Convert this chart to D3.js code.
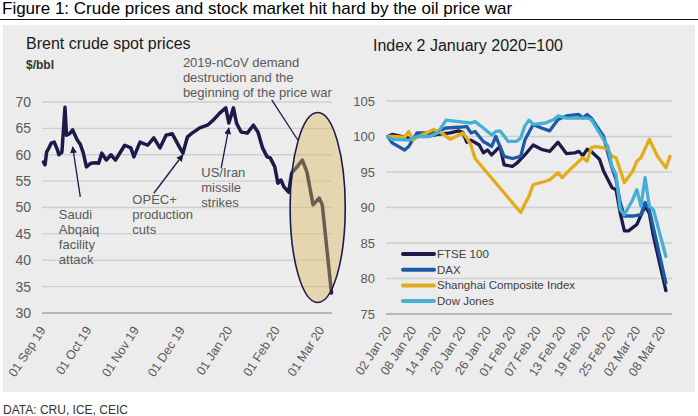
<!DOCTYPE html>
<html>
<head>
<meta charset="utf-8">
<script src="https://cdn.jsdelivr.net/npm/d3@7"></script>
<style>
  body { margin: 0; background: #fff; }
  text { font-family: "Liberation Sans", Arial, sans-serif; }
</style>
</head>
<body>
<svg id="canvas"></svg>
<script>
/***********************************************************************/
// Data

var brent = [
  ["2019-09-02", 58.6], ["2019-09-03", 58.1], ["2019-09-04", 60.5], ["2019-09-05", 61.0],
  ["2019-09-07", 62.2], ["2019-09-09", 62.4], ["2019-09-11", 61.0], ["2019-09-12", 60.0],
  ["2019-09-14", 60.5], ["2019-09-16", 69.0], ["2019-09-17", 63.7], ["2019-09-19", 64.0],
  ["2019-09-21", 64.7], ["2019-09-24", 62.8], ["2019-09-26", 62.0], ["2019-09-28", 60.3],
  ["2019-09-30", 57.7], ["2019-10-03", 58.4], ["2019-10-06", 58.5], ["2019-10-08", 58.4],
  ["2019-10-10", 60.3], ["2019-10-13", 59.0], ["2019-10-16", 60.0], ["2019-10-19", 59.0],
  ["2019-10-25", 61.8], ["2019-10-29", 61.3], ["2019-10-31", 59.6], ["2019-11-04", 62.4],
  ["2019-11-09", 61.8], ["2019-11-13", 63.2], ["2019-11-17", 61.3], ["2019-11-21", 63.7],
  ["2019-11-25", 64.0], ["2019-11-30", 61.3], ["2019-12-02", 60.3], ["2019-12-05", 63.4],
  ["2019-12-08", 64.1], ["2019-12-13", 65.1], ["2019-12-18", 65.6], ["2019-12-22", 66.6],
  ["2019-12-26", 67.9], ["2019-12-30", 68.9], ["2020-01-01", 66.0], ["2020-01-04", 68.9],
  ["2020-01-06", 66.0], ["2020-01-09", 64.3], ["2020-01-13", 64.1], ["2020-01-17", 65.6],
  ["2020-01-20", 64.3], ["2020-01-23", 61.3], ["2020-01-26", 59.6], ["2020-01-28", 59.4],
  ["2020-01-31", 57.7], ["2020-02-02", 54.6], ["2020-02-04", 55.2], ["2020-02-06", 53.9],
  ["2020-02-09", 52.9], ["2020-02-11", 56.5], ["2020-02-14", 57.5], ["2020-02-18", 59.0],
  ["2020-02-21", 56.7], ["2020-02-25", 50.5], ["2020-02-29", 51.8], ["2020-03-02", 50.5],
  ["2020-03-08", 33.8]
];

var ftse = [
  ["2020-01-02", 100], ["2020-01-03", 100.3], ["2020-01-06", 99.9], ["2020-01-08", 99.6],
  ["2020-01-09", 100.1], ["2020-01-12", 100.1], ["2020-01-14", 100.3], ["2020-01-17", 100.5],
  ["2020-01-19", 100.8], ["2020-01-20", 100.6], ["2020-01-21", 99.2], ["2020-01-22", 99.5],
  ["2020-01-24", 98.8], ["2020-01-25", 97.7], ["2020-01-26", 98.1], ["2020-01-27", 97.4],
  ["2020-01-29", 98.6], ["2020-01-30", 96.0], ["2020-02-01", 95.8], ["2020-02-02", 96.2],
  ["2020-02-04", 97.4], ["2020-02-06", 98.8], ["2020-02-08", 98.2], ["2020-02-10", 97.9],
  ["2020-02-12", 99.2], ["2020-02-14", 97.6], ["2020-02-16", 97.7], ["2020-02-17", 97.9],
  ["2020-02-18", 97.3], ["2020-02-19", 98.2], ["2020-02-20", 97.9], ["2020-02-22", 96.8],
  ["2020-02-23", 95.1], ["2020-02-25", 92.8], ["2020-02-26", 92.5], ["2020-02-27", 89.2],
  ["2020-02-28", 86.7], ["2020-02-29", 86.7], ["2020-03-02", 87.6], ["2020-03-04", 90.2],
  ["2020-03-05", 89.2], ["2020-03-06", 86.0], ["2020-03-09", 78.3]
];

var dax = [
  ["2020-01-02", 100], ["2020-01-03", 99.1], ["2020-01-06", 98.1], ["2020-01-07", 98.6],
  ["2020-01-09", 100.5], ["2020-01-12", 100.5], ["2020-01-14", 100.7], ["2020-01-16", 101.2],
  ["2020-01-19", 101.3], ["2020-01-21", 101.4], ["2020-01-22", 100.5], ["2020-01-23", 100.7],
  ["2020-01-25", 99.3], ["2020-01-27", 98.6], ["2020-01-28", 100.0], ["2020-01-30", 97.2],
  ["2020-02-01", 96.9], ["2020-02-03", 97.2], ["2020-02-04", 99.5], ["2020-02-06", 101.7],
  ["2020-02-08", 101.2], ["2020-02-10", 100.8], ["2020-02-12", 102.4], ["2020-02-14", 102.9],
  ["2020-02-17", 103.1], ["2020-02-18", 102.6], ["2020-02-19", 103.1], ["2020-02-20", 102.6],
  ["2020-02-23", 100.0], ["2020-02-24", 97.7], ["2020-02-25", 95.6], ["2020-02-26", 93.9],
  ["2020-02-27", 90.7], ["2020-02-28", 88.8], ["2020-03-01", 88.8], ["2020-03-03", 89.0],
  ["2020-03-04", 90.7], ["2020-03-05", 89.7], ["2020-03-09", 79.4]
];

var shanghai = [
  ["2020-01-02", 100], ["2020-01-03", 100], ["2020-01-06", 99.9], ["2020-01-07", 100.7],
  ["2020-01-08", 99.5], ["2020-01-09", 99.9], ["2020-01-12", 100.7], ["2020-01-13", 101.0],
  ["2020-01-14", 100.7], ["2020-01-15", 100.5], ["2020-01-17", 99.6], ["2020-01-18", 99.9],
  ["2020-01-20", 100.5], ["2020-01-21", 99.8], ["2020-01-22", 98.8], ["2020-01-23", 96.9],
  ["2020-02-03", 89.3], ["2020-02-04", 90.5], ["2020-02-05", 91.6], ["2020-02-06", 93.2],
  ["2020-02-09", 93.7], ["2020-02-10", 93.9], ["2020-02-12", 94.9], ["2020-02-13", 94.2],
  ["2020-02-15", 95.4], ["2020-02-17", 96.5], ["2020-02-18", 97.0], ["2020-02-19", 96.5],
  ["2020-02-20", 98.4], ["2020-02-21", 98.6], ["2020-02-23", 98.4], ["2020-02-24", 98.2],
  ["2020-02-25", 97.2], ["2020-02-26", 97.0], ["2020-02-28", 93.5], ["2020-03-01", 95.1],
  ["2020-03-02", 96.5], ["2020-03-03", 97.0], ["2020-03-05", 99.6], ["2020-03-07", 97.2],
  ["2020-03-09", 95.6], ["2020-03-10", 97.2]
];

var dow = [
  ["2020-01-02", 100], ["2020-01-03", 99.6], ["2020-01-07", 99.5], ["2020-01-09", 100.0],
  ["2020-01-12", 100.0], ["2020-01-14", 100.5], ["2020-01-16", 102.3], ["2020-01-19", 102.1],
  ["2020-01-22", 101.9], ["2020-01-23", 102.1], ["2020-01-25", 101.2], ["2020-01-27", 100.2],
  ["2020-01-28", 100.7], ["2020-01-29", 100.8], ["2020-01-31", 99.3], ["2020-02-02", 99.3],
  ["2020-02-03", 99.8], ["2020-02-04", 101.5], ["2020-02-05", 102.3], ["2020-02-06", 101.7],
  ["2020-02-09", 101.9], ["2020-02-11", 102.4], ["2020-02-12", 102.9], ["2020-02-14", 102.6],
  ["2020-02-17", 102.6], ["2020-02-19", 102.6], ["2020-02-20", 102.4], ["2020-02-22", 100.5],
  ["2020-02-24", 98.6], ["2020-02-25", 95.8], ["2020-02-26", 94.6], ["2020-02-27", 89.7],
  ["2020-02-28", 89.0], ["2020-03-01", 91.1], ["2020-03-02", 92.5], ["2020-03-03", 90.2],
  ["2020-03-04", 94.2], ["2020-03-05", 90.2], ["2020-03-06", 89.7], ["2020-03-09", 83.1]
];

var seriesNames = ["FTSE 100", "DAX", "Shanghai Composite Index", "Dow Jones"];
var seriesColors = ["#1c1a4b", "#1d5aa6", "#e3ac1a", "#45afd6"];

var leftTicksY = [30, 35, 40, 45, 50, 55, 60, 65, 70];
var rightTicksY = [75, 80, 85, 90, 95, 100, 105];
var leftTickDates = ["2019-09-01", "2019-10-01", "2019-11-01", "2019-12-01", "2020-01-01", "2020-02-01", "2020-03-01"];
var rightTickDates = ["2020-01-02", "2020-01-08", "2020-01-14", "2020-01-20", "2020-01-26", "2020-02-01",
                      "2020-02-07", "2020-02-13", "2020-02-19", "2020-02-25", "2020-03-02", "2020-03-08"];

// annotations: anchor dates / values in chart space
var notes = [
  { lines: ["Saudi", "Abqaiq", "facility", "attack"], date: "2019-09-12", value: 47.8,
    from: ["2019-09-26", 52.0], to: ["2019-09-21", 61.5] },
  { lines: ["OPEC+", "production", "cuts"], date: "2019-10-30", value: 50.7,
    from: ["2019-11-13", 52.7], to: ["2019-12-02", 60.0] },
  { lines: ["US/Iran", "missile", "strikes"], date: "2019-12-14", value: 55.8,
    from: ["2019-12-27", 57.5], to: ["2020-01-01", 65.1] },
  { lines: ["2019-nCoV demand", "destruction and the", "beginning of the price war"], date: "2019-12-02", value: 76.6,
    from: ["2020-01-29", 70.4], to: ["2020-02-15", 62.8], noHead: true }
];

/***********************************************************************/
// Setup

var parse = d3.timeParse("%Y-%m-%d");
var fmt = d3.timeFormat("%d %b %y");
var W = 698, H = 416;

var svg = d3.select('#canvas').attr('width', W).attr('height', H);

svg.append('rect').attr('width', W).attr('height', H).attr('fill', '#fff');

svg.append('text').attr('x', 2).attr('y', 14)
  .style('font-size', '17px').attr('fill', '#000')
  .text('Figure 1: Crude prices and stock market hit hard by the oil price war');
svg.append('line').attr('x1', 0).attr('x2', W).attr('y1', 19.5).attr('y2', 19.5)
  .attr('stroke', '#111').attr('stroke-width', 1);

svg.append('rect').attr('x', 3).attr('y', 25).attr('width', 692).attr('height', 367).attr('fill', '#ececec');

svg.append('text').attr('x', 3).attr('y', 414)
  .style('font-size', '12px').attr('fill', '#333')
  .text('DATA: CRU, ICE, CEIC');

var defs = svg.append('defs');
defs.append('marker').attr('id', 'arrow')
  .attr('viewBox', '0 0 10 10').attr('refX', 9).attr('refY', 5)
  .attr('markerWidth', 7).attr('markerHeight', 7).attr('orient', 'auto-start-reverse')
  .attr('markerUnits', 'userSpaceOnUse')
  .append('path').attr('d', 'M0,0 L10,5 L0,10 z').attr('fill', '#1c1a4b');

/***********************************************************************/
// Helpers

function drawGrid(g, y, ticks, x0, x1, labelX, fontSize){
  ticks.forEach((t, i) => {
    g.append('line').attr('x1', x0).attr('x2', x1).attr('y1', y(t)).attr('y2', y(t))
      .attr('stroke', i == 0 ? '#a6a6a6' : '#cfcfcf').attr('stroke-width', 1.3);
    g.append('text').attr('x', labelX).attr('y', y(t)).attr('dy', '0.35em')
      .attr('text-anchor', 'end').style('font-size', fontSize).attr('fill', '#595959')
      .text(t);
  });
}

function drawDateLabels(g, x, dates, yBase){
  dates.forEach(d => {
    var dt = parse(d);
    g.append('text')
      .attr('transform', 'translate(' + (x(dt) + 4) + ',' + yBase + ') rotate(-57)')
      .attr('text-anchor', 'end').style('font-size', '12.5px').attr('fill', '#595959')
      .text(fmt(dt));
  });
}

/***********************************************************************/
// Left chart: Brent

var xL = d3.scaleTime().domain([parse("2019-09-01"), parse("2020-03-09")]).range([42, 333]);
var yL = d3.scaleLinear().domain([30, 70]).range([313, 102]);
var gL = svg.append('g');

gL.append('text').attr('x', 26).attr('y', 49).style('font-size', '16px').attr('fill', '#1a1a1a')
  .text('Brent crude spot prices');
gL.append('text').attr('x', 26).attr('y', 69).style('font-size', '12px').style('font-weight', 'bold')
  .attr('fill', '#333').text('$/bbl');

drawGrid(gL, yL, leftTicksY, 42, 332, 31, '14px');
drawDateLabels(gL, xL, leftTickDates, 330);

var brentLine = d3.line().x(d => xL(parse(d[0]))).y(d => yL(d[1]));
gL.append('path').datum(brent).attr('d', brentLine)
  .attr('fill', 'none').attr('stroke', '#1c1a4b').attr('stroke-width', 3.5)
  .attr('stroke-linejoin', 'round').attr('stroke-linecap', 'round');

// highlight ellipse
var eLeft = xL(parse("2020-02-10")), eRight = xL(parse("2020-03-17"));
gL.append('ellipse')
  .attr('cx', (eLeft + eRight) / 2).attr('cy', (yL(68) + yL(32)) / 2)
  .attr('rx', (eRight - eLeft) / 2).attr('ry', (yL(32) - yL(68)) / 2)
  .attr('fill', '#dcb85e').attr('fill-opacity', 0.42)
  .attr('stroke', '#1c1a4b').attr('stroke-width', 1.6);

notes.forEach(n => {
  var t = gL.append('text').style('font-size', '13px').attr('fill', '#595959');
  n.lines.forEach((l, i) => {
    t.append('tspan').attr('x', xL(parse(n.date))).attr('y', yL(n.value) + i * 15).text(l);
  });
  var ln = gL.append('line')
    .attr('x1', xL(parse(n.from[0]))).attr('y1', yL(n.from[1]))
    .attr('x2', xL(parse(n.to[0]))).attr('y2', yL(n.to[1]))
    .attr('stroke', '#1c1a4b').attr('stroke-width', 1.3);
  if(!n.noHead){ ln.attr('marker-end', 'url(#arrow)'); }
});

/***********************************************************************/
// Right chart: stock indices

var xR = d3.scaleTime().domain([parse("2020-01-02"), parse("2020-03-10")]).range([388, 670]);
var yR = d3.scaleLinear().domain([75, 105]).range([314, 101]);
var gR = svg.append('g');

gR.append('text').attr('x', 373).attr('y', 51).style('font-size', '16px').attr('fill', '#1a1a1a')
  .text('Index 2 January 2020=100');

drawGrid(gR, yR, rightTicksY, 386, 672, 375, '13px');
drawDateLabels(gR, xR, rightTickDates, 330);

var idxLine = d3.line().x(d => xR(parse(d[0]))).y(d => yR(d[1]));
[ftse, dax, shanghai, dow].forEach((s, i) => {
  gR.append('path').datum(s).attr('d', idxLine)
    .attr('fill', 'none').attr('stroke', seriesColors[i]).attr('stroke-width', 3.3)
    .attr('stroke-linejoin', 'round').attr('stroke-linecap', 'round');
});

// legend
seriesNames.forEach((name, i) => {
  var ly = 254 + i * 15.7;
  gR.append('line').attr('x1', 403).attr('x2', 434).attr('y1', ly).attr('y2', ly)
    .attr('stroke', seriesColors[i]).attr('stroke-width', 4).attr('stroke-linecap', 'round');
  gR.append('text').attr('x', 437).attr('y', ly).attr('dy', '0.35em')
    .style('font-size', '11.5px').attr('fill', '#404040').text(name);
});
</script>
</body>
</html>
